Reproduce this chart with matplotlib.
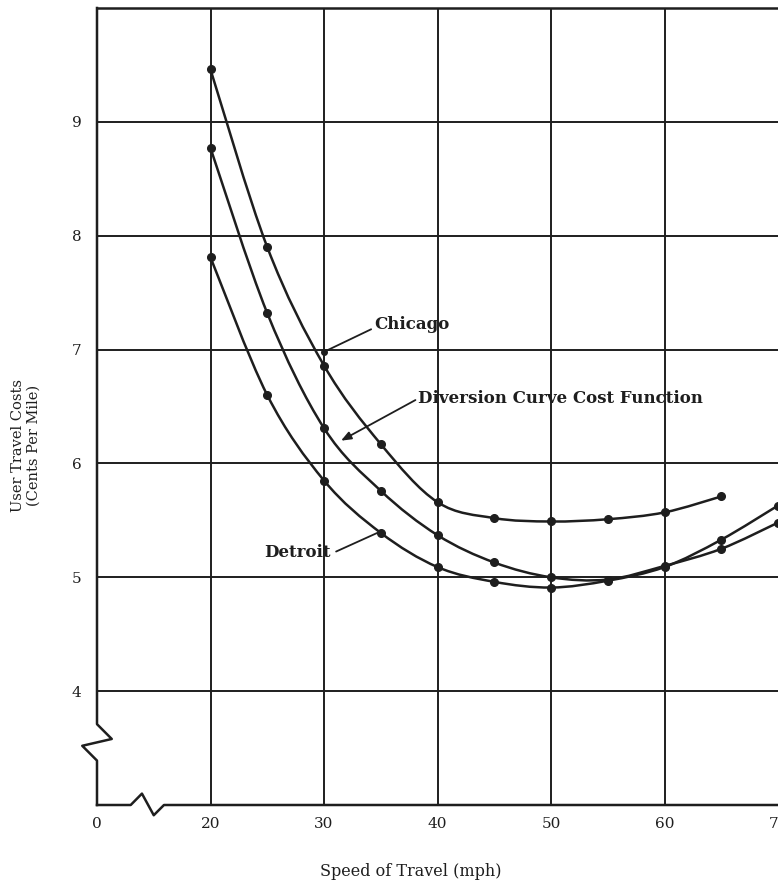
import numpy as np
import matplotlib
matplotlib.use("Agg")
import matplotlib.pyplot as plt
from matplotlib.path import Path
from matplotlib.patches import PathPatch

# ---- data ----
speed = [20, 25, 30, 35, 40, 45, 50, 55, 60, 65, 70]
chicago_speed = [20, 25, 30, 35, 40, 45, 50, 55, 60, 65]
chicago = [9.46, 7.90, 6.86, 6.17, 5.66, 5.52, 5.49, 5.51, 5.57, 5.71]
diversion = [8.77, 7.32, 6.31, 5.76, 5.37, 5.13, 5.00, 4.98, 5.10, 5.25, 5.48]
detroit = [7.81, 6.60, 5.85, 5.39, 5.09, 4.96, 4.91, 4.97, 5.09, 5.33, 5.63]

x_ticks = [10, 20, 30, 40, 50, 60, 70]
x_tick_labels = ["0", "20", "30", "40", "50", "60", "70"]
y_ticks = [4, 5, 6, 7, 8, 9]
y_tick_labels = ["4", "5", "6", "7", "8", "9"]

INK = "#1e1e1e"
FONT = "DejaVu Serif"


def smooth_path(xs, ys):
    pts = np.column_stack([xs, ys]).astype(float)
    n = len(pts)
    verts = [tuple(pts[0])]
    codes = [Path.MOVETO]
    for i in range(n - 1):
        p0 = pts[i - 1] if i > 0 else pts[i]
        p1 = pts[i]
        p2 = pts[i + 1]
        p3 = pts[i + 2] if i + 2 < n else pts[i + 1]
        c1 = p1 + (p2 - p0) / 6.0
        c2 = p2 - (p3 - p1) / 6.0
        verts += [tuple(c1), tuple(c2), tuple(p2)]
        codes += [Path.CURVE4] * 3
    return Path(verts, codes)


fig = plt.figure(figsize=(7.78, 8.81), dpi=100)
ax = fig.add_axes([97 / 778, 1 - 805 / 881, (778 - 97) / 778, (805 - 8) / 881])
ax.set_xlim(10, 70)
ax.set_ylim(3, 10)

# grid
for gx in [20, 30, 40, 50, 60]:
    ax.axvline(gx, color=INK, lw=1.4, zorder=1)
for gy in y_ticks:
    ax.axhline(gy, color=INK, lw=1.4, zorder=1)

# curves
for xs, ys in [(chicago_speed, chicago), (speed, diversion), (speed, detroit)]:
    ax.add_patch(PathPatch(smooth_path(xs, ys), facecolor="none",
                           edgecolor=INK, lw=1.8, zorder=3))
    ax.plot(xs, ys, "o", color=INK, ms=5.5, zorder=4)

# spines
for s in ["left", "bottom", "right"]:
    ax.spines[s].set_visible(False)
ax.spines["top"].set_linewidth(1.8)
ax.spines["top"].set_color(INK)

# broken axes (left and bottom) with zigzag
ax.plot([10, 10, 11.3, 8.7, 10, 10], [10, 3.71, 3.58, 3.52, 3.39, 3.0],
        color=INK, lw=1.8, clip_on=False, zorder=5)
ax.plot([10, 12.97, 13.96, 15.0, 15.9, 70], [3.0, 3.0, 3.1, 2.91, 3.0, 3.0],
        color=INK, lw=1.8, clip_on=False, zorder=5)

ax.set_xticks(x_ticks)
ax.set_xticklabels(x_tick_labels, fontfamily=FONT, fontsize=11, color=INK)
ax.set_yticks(y_ticks)
ax.set_yticklabels(y_tick_labels, fontfamily=FONT, fontsize=11, color=INK)
ax.tick_params(axis="both", length=0)
ax.tick_params(axis="x", pad=9)
ax.tick_params(axis="y", pad=11)

fig.text(411 / 778, 1 - 871 / 881, "Speed of Travel (mph)", ha="center",
         va="center", fontfamily=FONT, fontsize=11.5, color=INK)
fig.text(26 / 778, 1 - 445 / 881, "User Travel Costs\n(Cents Per Mile)",
         ha="center", va="center", rotation=90, fontfamily=FONT,
         fontsize=10.5, color=INK, linespacing=1.2)

# annotations
bold = dict(fontfamily=FONT, fontsize=12, fontweight="bold", color=INK)
ax.annotate("Chicago", xy=(30, 6.98), xytext=(34.4, 7.22), ha="left",
            va="center", arrowprops=dict(arrowstyle="-", color=INK, lw=1.3,
                                         shrinkA=0, shrinkB=0,
                                         relpos=(0, 0.3)), **bold)
ax.plot([30], [6.98], "o", color=INK, ms=4, zorder=4)
ax.annotate("Diversion Curve Cost Function", xy=(31.5, 6.2),
            xytext=(38.3, 6.57), ha="left", va="center",
            arrowprops=dict(arrowstyle="-|>,head_length=0.5,head_width=0.2",
                            color=INK, lw=1.3, shrinkA=0, shrinkB=0,
                            relpos=(0, 0.5)), **bold)
ax.annotate("Detroit", xy=(34.7, 5.39), xytext=(30.6, 5.22), ha="right",
            va="center", arrowprops=dict(arrowstyle="-", color=INK, lw=1.3,
                                         shrinkA=2, shrinkB=0,
                                         relpos=(1, 0.4)), **bold)

fig.savefig("out.png", dpi=100, facecolor="white")
